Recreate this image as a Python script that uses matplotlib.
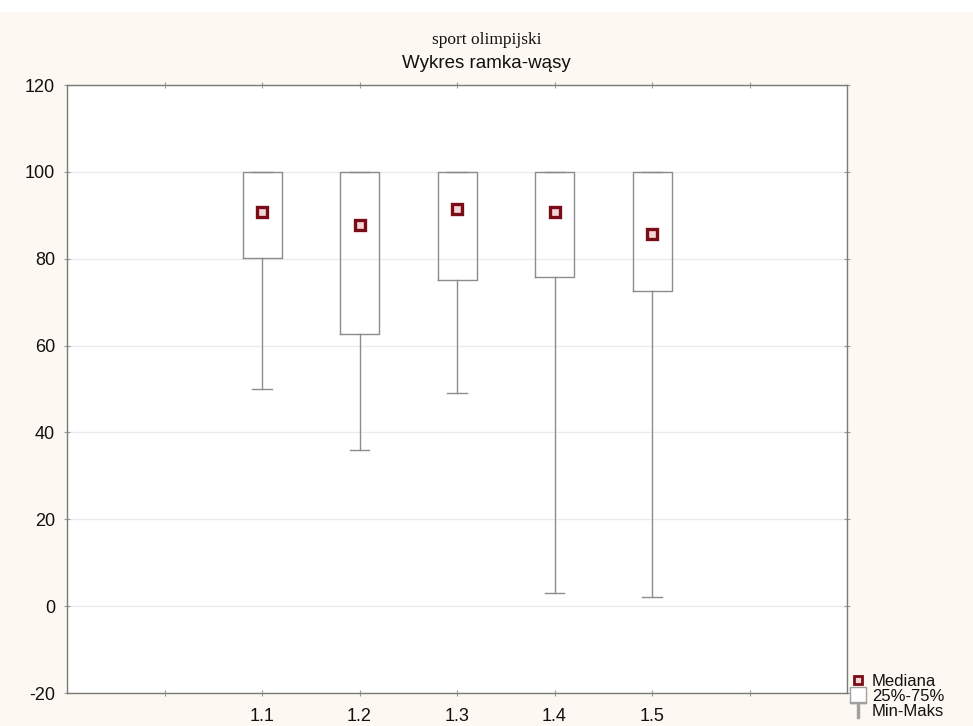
import matplotlib
matplotlib.use("Agg")
import matplotlib.pyplot as plt
from matplotlib.lines import Line2D
from matplotlib.patches import Rectangle

categories = ["1.1", "1.2", "1.3", "1.4", "1.5"]
medians = [90.7, 87.7, 91.4, 90.7, 85.6]
q1 = [80.1, 62.6, 75.2, 75.7, 72.5]
q3 = [100, 100, 100, 100, 100]
mins = [50, 36, 49, 3, 2]
maxs = [100, 100, 100, 100, 100]

title1 = "sport olimpijski"
title2 = "Wykres ramka-wąsy"
yticks = [-20, 0, 20, 40, 60, 80, 100, 120]

bg = "#fdf9f2"
gray = "#8c8c8c"

fig = plt.figure(figsize=(9.73, 7.26), dpi=100, facecolor=bg)
fig.patches.append(Rectangle((0, 1 - 12 / 726), 1, 12 / 726, transform=fig.transFigure,
                             facecolor="white", edgecolor="none", zorder=0))
ax = fig.add_axes([67 / 973, 1 - 693 / 726, 780 / 973, 608 / 726])
ax.set_facecolor("white")

positions = list(range(1, len(categories) + 1))
stats = []
for c, m, a, b, lo, hi in zip(categories, medians, q1, q3, mins, maxs):
    stats.append(dict(label=c, med=m, q1=a, q3=b, whislo=lo, whishi=hi, fliers=[]))

ax.bxp(stats, positions=positions, widths=0.4, showfliers=False,
       boxprops=dict(color=gray, linewidth=1.0),
       whiskerprops=dict(color=gray, linewidth=1.0),
       capprops=dict(color=gray, linewidth=1.0),
       medianprops=dict(linestyle="none"),
       capwidths=0.2, manage_ticks=False, zorder=3)
ax.plot(positions, medians, linestyle="none", marker="s", markersize=6.5,
        markerfacecolor="#f3d6d6", markeredgecolor="#7a0c18", markeredgewidth=2.4, zorder=4)

ax.set_xlim(-1, 7)
ax.set_ylim(-20, 120)
ax.set_xticks(range(0, 7))
ax.set_xticklabels([""] + categories + [""])
ax.set_yticks(yticks)
ax.set_yticklabels([str(v) for v in yticks])
ax.grid(axis="y", color="#ebebeb", linewidth=1.0, zorder=0)
ax.set_axisbelow(True)
for s in ax.spines.values():
    s.set_color("#7a7a7a")
    s.set_linewidth(1.0)
ax.tick_params(axis="both", direction="inout", length=5, color="#9a9a9a",
               labelsize=13, top=True, right=True, labelcolor="#111111")
ax.tick_params(axis="x", pad=8)
ax.tick_params(axis="y", pad=6)
for lab in ax.get_xticklabels() + ax.get_yticklabels():
    lab.set_family(["Liberation Sans", "DejaVu Sans"])

fig.text(0.5, 1 - 40 / 726, title1, ha="center", va="center",
         family=["Liberation Serif", "DejaVu Serif"], fontsize=12.5, color="#111111")
fig.text(0.5, 1 - 63 / 726, title2, ha="center", va="center",
         family=["Liberation Sans", "DejaVu Sans"], fontsize=13.5, color="#111111")

handles = [
    Line2D([], [], linestyle="none", marker="s", markersize=6,
           markerfacecolor="#f3d6d6", markeredgecolor="#7a0c18", markeredgewidth=2),
    Line2D([], [], linestyle="none", marker="s", markersize=11,
           markerfacecolor="white", markeredgecolor="#a0a0a0", markeredgewidth=1),
    Line2D([], [], linestyle="none", marker=r"$\top$", markersize=12,
           color="#a0a0a0"),
]
labels = ["Mediana", "25%-75%", "Min-Maks"]
leg = fig.legend(handles, labels, loc="upper left",
                 bbox_to_anchor=(850 / 973, 1 - 674 / 726), frameon=False,
                 handlelength=1.0, handletextpad=0.3, labelspacing=0.0,
                 borderpad=0, borderaxespad=0,
                 prop=dict(family=["Liberation Sans", "DejaVu Sans"], size=12))
for t in leg.get_texts():
    t.set_color("#111111")

fig.savefig("out.png", dpi=100, facecolor=bg)
